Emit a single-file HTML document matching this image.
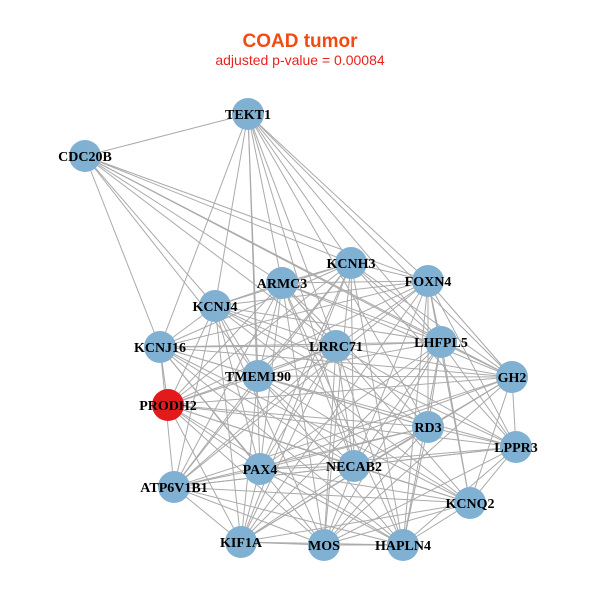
<!DOCTYPE html>
<html><head><meta charset="utf-8"><style>
html,body{margin:0;padding:0;background:#fff;}
svg{display:block}
</style></head><body>
<svg id="s" width="600" height="600" xmlns="http://www.w3.org/2000/svg">
<rect width="600" height="600" fill="#fff"/>
<text x="300" y="47" text-anchor="middle" font-family="Liberation Sans, sans-serif" font-weight="bold" font-size="19" fill="#f24a12">COAD tumor</text>
<text x="300" y="65" text-anchor="middle" font-family="Liberation Sans, sans-serif" font-size="14" fill="#e8231e">adjusted p-value = 0.00084</text>
<g id="e" stroke="#aaaaaa" stroke-width="1"></g>
<g id="n"></g>
</svg>
<script>
var N={TEKT1:[248,114],CDC20B:[85,156],KCNH3:[351,263],ARMC3:[282,283],FOXN4:[428,281],KCNJ4:[215,306],LHFPL5:[441,342],LRRC71:[336,346],KCNJ16:[160,347],TMEM190:[258,376],GH2:[512,377],PRODH2:[168,405],RD3:[428,427],LPPR3:[516,447],PAX4:[260,469],NECAB2:[354,466],ATP6V1B1:[174,487],KCNQ2:[470,503],KIF1A:[241,542],MOS:[324,545],HAPLN4:[403,545]};
var cluster=["KCNH3","ARMC3","FOXN4","KCNJ4","LHFPL5","LRRC71","KCNJ16","TMEM190","GH2","PRODH2","RD3","LPPR3","PAX4","NECAB2","ATP6V1B1","KCNQ2","KIF1A","MOS","HAPLN4"];
var E=[];
for(var i=0;i<cluster.length;i++)for(var j=i+1;j<cluster.length;j++){if((i*7+j*3)%5!==0)E.push([cluster[i],cluster[j]]);}
["CDC20B","KCNH3","ARMC3","FOXN4","KCNJ4","LHFPL5","LRRC71","KCNJ16","TMEM190","RD3","NECAB2","PAX4","GH2"].forEach(function(b){E.push(["TEKT1",b]);});
["KCNJ16","KCNJ4","ARMC3","KCNH3","FOXN4","LHFPL5","LRRC71","TMEM190","GH2"].forEach(function(b){E.push(["CDC20B",b]);});
var ns="http://www.w3.org/2000/svg",ge=document.getElementById("e"),gn=document.getElementById("n");
E.forEach(function(p){var a=N[p[0]],b=N[p[1]],l=document.createElementNS(ns,"line");l.setAttribute("x1",a[0]);l.setAttribute("y1",a[1]);l.setAttribute("x2",b[0]);l.setAttribute("y2",b[1]);ge.appendChild(l);});
for(var k in N){var c=document.createElementNS(ns,"circle");c.setAttribute("cx",N[k][0]);c.setAttribute("cy",N[k][1]);c.setAttribute("r",16);c.setAttribute("fill",k=="PRODH2"?"#e31a1c":"#80b1d3");gn.appendChild(c);}
for(var k in N){var t=document.createElementNS(ns,"text");t.setAttribute("x",N[k][0]);t.setAttribute("y",N[k][1]+5);t.setAttribute("text-anchor","middle");t.setAttribute("font-family","Liberation Serif, serif");t.setAttribute("font-weight","bold");t.setAttribute("font-size","14");t.textContent=k;gn.appendChild(t);}
</script>
</body></html>
